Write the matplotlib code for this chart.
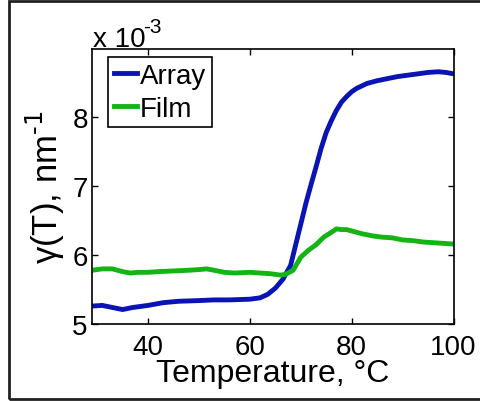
import matplotlib.pyplot as plt
from matplotlib.patches import Rectangle

# values (y in units of 1e-3 nm^-1)
array_t = [29, 31, 33, 35, 37, 40, 43, 46, 50, 53, 56, 60, 62, 63.5, 65, 66.5,
           68, 69.5, 71, 72, 73, 74, 75, 76, 77, 78, 79, 80, 81, 83, 85, 87,
           89, 91, 93, 95, 97, 98.5, 100]
array_g = [5.26, 5.27, 5.24, 5.21, 5.24, 5.27, 5.31, 5.33, 5.34, 5.35, 5.35,
           5.36, 5.38, 5.43, 5.52, 5.65, 5.85, 6.3, 6.75, 7.02, 7.28, 7.55,
           7.78, 7.95, 8.1, 8.22, 8.3, 8.37, 8.42, 8.49, 8.53, 8.56, 8.59,
           8.61, 8.63, 8.65, 8.66, 8.65, 8.63]

film_t = [29, 31, 33, 35, 36.5, 38, 40, 42, 45, 48, 50, 51.5, 53, 55, 57, 60,
          62, 64, 66, 67, 68.5, 70, 71.5, 73, 74.5, 76, 77, 78, 79, 80, 82, 84,
          86, 88, 90, 92, 94, 96, 98, 100]
film_g = [5.78, 5.80, 5.80, 5.76, 5.74, 5.75, 5.75, 5.76, 5.77, 5.78, 5.79,
          5.80, 5.78, 5.75, 5.74, 5.75, 5.74, 5.73, 5.71, 5.72, 5.78, 5.97,
          6.07, 6.15, 6.26, 6.33, 6.38, 6.37, 6.37, 6.35, 6.31, 6.28, 6.26,
          6.25, 6.22, 6.21, 6.19, 6.18, 6.17, 6.16]

x_ticks = [40, 60, 80, 100]
y_ticks = [5, 6, 7, 8]

plt.rcParams["font.family"] = ["Liberation Sans", "DejaVu Sans"]

fig = plt.figure(figsize=(4.81, 4.02), dpi=100)
ax = fig.add_axes([0.1913, 0.1915, 0.7516, 0.6841])

ax.plot(array_t, array_g, color="#0a14b4", linewidth=3.5, label="Array")
ax.plot(film_t, film_g, color="#14b414", linewidth=3.5, label="Film")

ax.set_xlim(29, 100)
ax.set_ylim(5, 8.99)
ax.set_xticks(x_ticks)
ax.set_yticks(y_ticks)
ax.tick_params(direction="in", top=True, right=True, length=4, width=1,
               labelsize=20)
ax.tick_params(axis="x", pad=7)
ax.tick_params(axis="y", pad=3)
for s in ax.spines.values():
    s.set_linewidth(1.2)

ax.set_xlabel("Temperature, \u00b0C", fontsize=23, labelpad=-1)
ax.set_ylabel("\u03b3(T), nm$^{\\text{-1}}$", fontsize=25, labelpad=4)

leg = ax.legend(loc="upper left", bbox_to_anchor=(0.045, 0.97), fontsize=20,
                handlelength=0.85, handletextpad=0.1, borderpad=0.2,
                labelspacing=0.25, borderaxespad=0, fancybox=False,
                framealpha=1)
leg.get_frame().set_edgecolor("black")
leg.get_frame().set_linewidth(1.2)

fig.text(93 / 481, 1 - 47 / 402, "x 10", fontsize=20, va="baseline")
fig.text(143 / 481, 1 - 33 / 402, "-3", fontsize=15, va="baseline")

# outer frame around the picture
fig.patches.append(Rectangle((9 / 481, 2 / 402), 1.0, 398 / 402,
                             transform=fig.transFigure, fill=False,
                             edgecolor="#222222", linewidth=2))

plt.savefig("out.png", dpi=100)
plt.close()
